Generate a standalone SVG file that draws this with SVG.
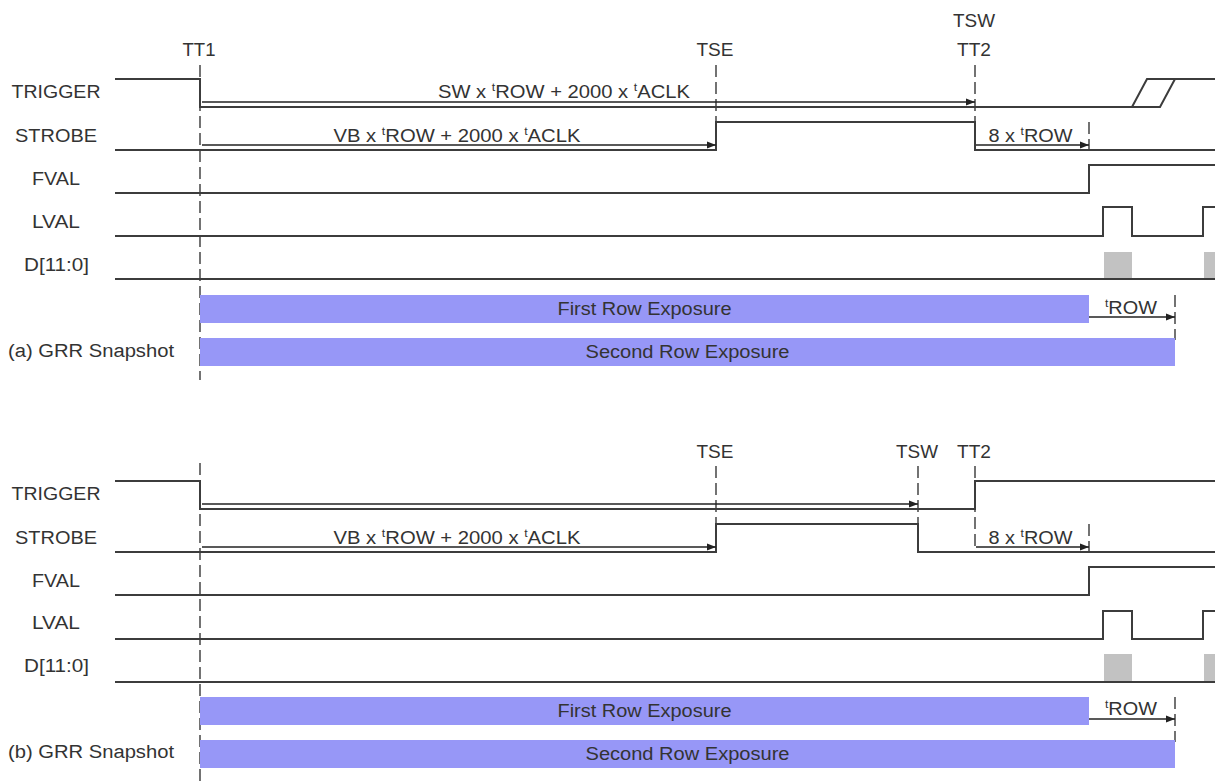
<svg xmlns="http://www.w3.org/2000/svg" width="1215" height="782" viewBox="0 0 1215 782">
<style>
.sig{fill:none;stroke:#3c3c3c;stroke-width:2}
.dash{fill:none;stroke:#505050;stroke-width:1.6;stroke-dasharray:12 5}
.arr{fill:none;stroke:#222;stroke-width:1.4;marker-end:url(#ah)}
.lbl{font-family:"Liberation Sans",Arial,sans-serif;font-size:18px;fill:#333;text-anchor:middle}
.sup{font-size:11px}
.bar{fill:#9797f7}
.dat{fill:#c2c2c2}
</style>
<defs>
<marker id="ah" markerUnits="userSpaceOnUse" markerWidth="9" markerHeight="8" refX="9" refY="4" orient="auto">
<path d="M0,0.5 L9,4 L0,7.5 z" fill="#222"/>
</marker>
</defs>
<rect width="1215" height="782" fill="#fff"/>

<g id="diagram-a">
  <g id="a-labels">
    <text class="lbl" x="56" y="98" textLength="89" lengthAdjust="spacingAndGlyphs">TRIGGER</text>
    <text class="lbl" x="56" y="142" textLength="82" lengthAdjust="spacingAndGlyphs">STROBE</text>
    <text class="lbl" x="56" y="185" textLength="48" lengthAdjust="spacingAndGlyphs">FVAL</text>
    <text class="lbl" x="56" y="228" textLength="48" lengthAdjust="spacingAndGlyphs">LVAL</text>
    <text class="lbl" x="56.5" y="271" textLength="65" lengthAdjust="spacingAndGlyphs">D[11:0]</text>
    <text class="lbl" x="91" y="357" textLength="166" lengthAdjust="spacingAndGlyphs">(a) GRR Snapshot</text>
    <text class="lbl" x="199" y="56" textLength="33" lengthAdjust="spacingAndGlyphs">TT1</text>
    <text class="lbl" x="715" y="56" textLength="37" lengthAdjust="spacingAndGlyphs">TSE</text>
    <text class="lbl" x="974" y="27" textLength="42" lengthAdjust="spacingAndGlyphs">TSW</text>
    <text class="lbl" x="974" y="56" textLength="34" lengthAdjust="spacingAndGlyphs">TT2</text>
  </g>
  <g id="a-markers">
    <path class="dash" d="M200,65 V380"/>
    <path class="dash" d="M716,65 V122"/>
    <path class="dash" d="M975,65 V122"/>
    <path class="dash" d="M1089,122 V152"/>
    <path class="dash" d="M1175,295 V340"/>
  </g>
  <g id="a-signals">
    <path class="sig" d="M115,79 H200 V107 H1160 L1175,79"/>
    <path class="sig" d="M1132,107 L1147,79 H1215"/>
    <path class="sig" d="M115,150 H716 V122 H975 V150 H1215"/>
    <path class="sig" d="M115,193 H1089 V165 H1215"/>
    <path class="sig" d="M115,236 H1103 V207 H1132 V236 H1203 V207 H1215"/>
    <path class="sig" d="M115,279 H1215"/>
    <rect class="dat" x="1104" y="252" width="28" height="26"/>
    <rect class="dat" x="1204" y="252" width="11" height="26"/>
  </g>
  <g id="a-exposure">
    <rect class="bar" x="200" y="295" width="889" height="28"/>
    <rect class="bar" x="200" y="338" width="975" height="28"/>
    <text class="lbl" x="644.5" y="315" textLength="174" lengthAdjust="spacingAndGlyphs">First Row Exposure</text>
    <text class="lbl" x="687.5" y="358" textLength="204" lengthAdjust="spacingAndGlyphs">Second Row Exposure</text>
  </g>
  <g id="a-connectors">
    <path class="arr" d="M202,102 H975"/>
    <path class="arr" d="M202,145 H716"/>
    <path class="arr" d="M976,145 H1089"/>
    <path class="arr" d="M1089,317 H1175"/>
    <text class="lbl" x="564" y="98" textLength="252" lengthAdjust="spacingAndGlyphs">SW x <tspan class="sup" dy="-7">t</tspan><tspan dy="7">ROW + 2000 x </tspan><tspan class="sup" dy="-7">t</tspan><tspan dy="7">ACLK</tspan></text>
    <text class="lbl" x="457" y="142" textLength="247" lengthAdjust="spacingAndGlyphs">VB x <tspan class="sup" dy="-7">t</tspan><tspan dy="7">ROW + 2000 x </tspan><tspan class="sup" dy="-7">t</tspan><tspan dy="7">ACLK</tspan></text>
    <text class="lbl" x="1030.5" y="142" textLength="84" lengthAdjust="spacingAndGlyphs">8 x <tspan class="sup" dy="-7">t</tspan><tspan dy="7">ROW</tspan></text>
    <text class="lbl" x="1131" y="314" textLength="52" lengthAdjust="spacingAndGlyphs"><tspan class="sup" dy="-7">t</tspan><tspan dy="7">ROW</tspan></text>
  </g>
</g>

<g id="diagram-b">
  <g id="b-labels">
    <text class="lbl" x="56" y="500" textLength="89" lengthAdjust="spacingAndGlyphs">TRIGGER</text>
    <text class="lbl" x="56" y="544" textLength="82" lengthAdjust="spacingAndGlyphs">STROBE</text>
    <text class="lbl" x="56" y="587" textLength="48" lengthAdjust="spacingAndGlyphs">FVAL</text>
    <text class="lbl" x="56" y="629" textLength="48" lengthAdjust="spacingAndGlyphs">LVAL</text>
    <text class="lbl" x="56.5" y="672" textLength="65" lengthAdjust="spacingAndGlyphs">D[11:0]</text>
    <text class="lbl" x="91" y="758" textLength="166" lengthAdjust="spacingAndGlyphs">(b) GRR Snapshot</text>
    <text class="lbl" x="715" y="458" textLength="37" lengthAdjust="spacingAndGlyphs">TSE</text>
    <text class="lbl" x="917" y="458" textLength="42" lengthAdjust="spacingAndGlyphs">TSW</text>
    <text class="lbl" x="974" y="458" textLength="34" lengthAdjust="spacingAndGlyphs">TT2</text>
  </g>
  <g id="b-markers">
    <path class="dash" d="M200,463 V782"/>
    <path class="dash" d="M716,466 V524"/>
    <path class="dash" d="M918,466 V524"/>
    <path class="dash" d="M975,466 V552"/>
    <path class="dash" d="M1089,524 V554"/>
    <path class="dash" d="M1175,697 V742"/>
  </g>
  <g id="b-signals">
    <path class="sig" d="M115,481 H200 V509 H975 V481 H1215"/>
    <path class="sig" d="M115,552 H716 V524 H918 V552 H1215"/>
    <path class="sig" d="M115,595 H1089 V567 H1215"/>
    <path class="sig" d="M115,639 H1103 V611 H1132 V639 H1203 V611 H1215"/>
    <path class="sig" d="M115,682 H1215"/>
    <rect class="dat" x="1104" y="654" width="28" height="27"/>
    <rect class="dat" x="1204" y="654" width="11" height="27"/>
  </g>
  <g id="b-exposure">
    <rect class="bar" x="200" y="697" width="889" height="28"/>
    <rect class="bar" x="200" y="740" width="975" height="28"/>
    <text class="lbl" x="644.5" y="717" textLength="174" lengthAdjust="spacingAndGlyphs">First Row Exposure</text>
    <text class="lbl" x="687.5" y="760" textLength="204" lengthAdjust="spacingAndGlyphs">Second Row Exposure</text>
  </g>
  <g id="b-connectors">
    <path class="arr" d="M202,504 H918"/>
    <path class="arr" d="M202,547 H716"/>
    <path class="arr" d="M976,547 H1089"/>
    <path class="arr" d="M1089,719 H1175"/>
    <text class="lbl" x="457" y="544" textLength="247" lengthAdjust="spacingAndGlyphs">VB x <tspan class="sup" dy="-7">t</tspan><tspan dy="7">ROW + 2000 x </tspan><tspan class="sup" dy="-7">t</tspan><tspan dy="7">ACLK</tspan></text>
    <text class="lbl" x="1030.5" y="544" textLength="84" lengthAdjust="spacingAndGlyphs">8 x <tspan class="sup" dy="-7">t</tspan><tspan dy="7">ROW</tspan></text>
    <text class="lbl" x="1131" y="715" textLength="52" lengthAdjust="spacingAndGlyphs"><tspan class="sup" dy="-7">t</tspan><tspan dy="7">ROW</tspan></text>
  </g>
</g>
</svg>
